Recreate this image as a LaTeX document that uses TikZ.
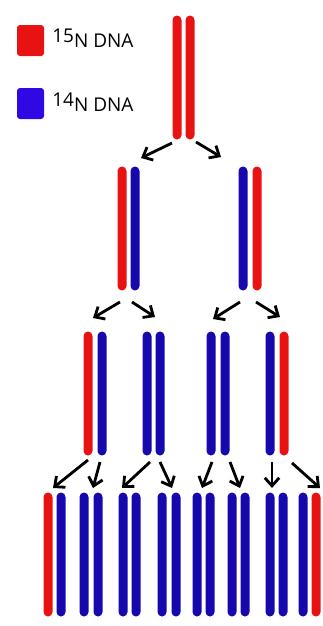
\documentclass[tikz,border=0pt]{standalone}
\usepackage{fontspec}
\usepackage{xcolor}
\usepackage{tikz}
\usetikzlibrary{arrows.meta}
\newfontfamily\keyfont{Open Sans}
\newlength\px
\setlength\px{0.02cm}
\definecolor{dnared}{RGB}{232,18,18}
\definecolor{dnablue}{RGB}{22,8,172}
\definecolor{keyblue}{RGB}{48,8,228}
\tikzset{
  strand/.style={rectangle, rounded corners=4.5\px, minimum width=9\px, minimum height=124\px, inner sep=0pt, draw=none},
  Nh/.style={strand, fill=dnared},
  Nl/.style={strand, fill=dnablue},
  keybox/.style={rectangle, rounded corners=3\px, minimum width=27\px, minimum height=31\px, inner sep=0pt},
  lbl/.style={font=\keyfont\fontsize{10.8}{12}\selectfont, inner sep=0pt, anchor=base west},
  ar/.style={draw=black, line width=1.6pt, -{Straight Barb[length=4.6pt,width=8.2pt]}},
  dna/.style={x=0.02cm, y=-0.02cm}
}
\begin{document}
\begin{tikzpicture}[dna]
  \useasboundingbox (0,0) rectangle (323,626);
  % key
  \node[keybox, fill=dnared] (k15) at (30.5,40.5) {};
  \node[keybox, fill=keyblue] (k14) at (30.5,103.5) {};
  \node[lbl] (l15) at (52,47) {\raisebox{5\px}{15}N DNA};
  \node[lbl] (l14) at (52,111) {\raisebox{5\px}{14}N DNA};
  % generation 0
  \node[Nh] (g0a) at (177,77.5) {};
  \node[Nh] (g0b) at (190,77.5) {};
  % generation 1
  \node[Nh] (g1a) at (122,228.5) {};
  \node[Nl] (g1b) at (135,228.5) {};
  \node[Nl] (g1c) at (243,228.5) {};
  \node[Nh] (g1d) at (257,228.5) {};
  % generation 2
  \node[Nh] (g2a) at (88,393.5) {};
  \node[Nl] (g2b) at (102,393.5) {};
  \node[Nl] (g2c) at (147,393.5) {};
  \node[Nl] (g2d) at (160,393.5) {};
  \node[Nl] (g2e) at (211,393.5) {};
  \node[Nl] (g2f) at (225,393.5) {};
  \node[Nl] (g2g) at (270,393.5) {};
  \node[Nh] (g2h) at (284,393.5) {};
  % generation 3
  \node[Nh] (g3a) at (48,554.5) {};
  \node[Nl] (g3b) at (61,554.5) {};
  \node[Nl] (g3c) at (84,554.5) {};
  \node[Nl] (g3d) at (98,554.5) {};
  \node[Nl] (g3e) at (123,554.5) {};
  \node[Nl] (g3f) at (136,554.5) {};
  \node[Nl] (g3g) at (162,554.5) {};
  \node[Nl] (g3h) at (176,554.5) {};
  \node[Nl] (g3i) at (197,554.5) {};
  \node[Nl] (g3j) at (210,554.5) {};
  \node[Nl] (g3k) at (232,554.5) {};
  \node[Nl] (g3l) at (245,554.5) {};
  \node[Nl] (g3m) at (270,554.5) {};
  \node[Nl] (g3n) at (283,554.5) {};
  \node[Nl] (g3o) at (303,554.5) {};
  \node[Nh] (g3p) at (316,554.5) {};
  % arrow ends
  \coordinate (t1) at (172,143);  \coordinate (h1) at (141,158);
  \coordinate (t2) at (196,142);  \coordinate (h2) at (221,157);
  \coordinate (t3) at (120,302);  \coordinate (h3) at (93,318);
  \coordinate (t4) at (132,302);  \coordinate (h4) at (155,317);
  \coordinate (t5) at (240,302);  \coordinate (h5) at (213,319);
  \coordinate (t6) at (256,302);  \coordinate (h6) at (280,317);
  \coordinate (t7) at (88,460);   \coordinate (h7) at (53,488);
  \coordinate (t8) at (100,462);  \coordinate (h8) at (93,488);
  \coordinate (t9) at (150,462);  \coordinate (h9) at (122,488);
  \coordinate (t10) at (160,462); \coordinate (h10) at (172,488);
  \coordinate (t11) at (212,462); \coordinate (h11) at (202,488);
  \coordinate (t12) at (230,462); \coordinate (h12) at (240,488);
  \coordinate (t13) at (272,462); \coordinate (h13) at (272,488);
  \coordinate (t14) at (292,463); \coordinate (h14) at (320,488);
  \draw[ar] (t1)--(h1); \draw[ar] (t2)--(h2);
  \draw[ar] (t3)--(h3); \draw[ar] (t4)--(h4);
  \draw[ar] (t5)--(h5); \draw[ar] (t6)--(h6);
  \draw[ar] (t7)--(h7); \draw[ar] (t8)--(h8);
  \draw[ar] (t9)--(h9); \draw[ar] (t10)--(h10);
  \draw[ar] (t11)--(h11); \draw[ar] (t12)--(h12);
  \draw[ar] (t13)--(h13); \draw[ar] (t14)--(h14);
\end{tikzpicture}
\end{document}
